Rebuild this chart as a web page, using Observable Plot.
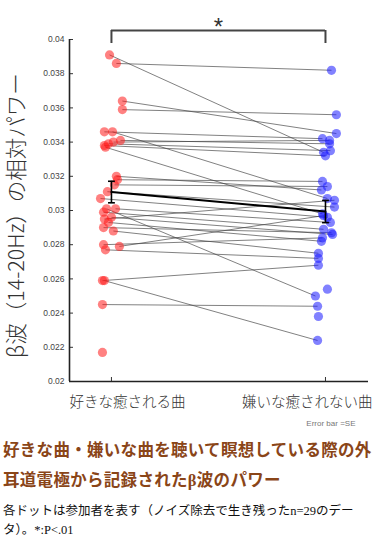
<!DOCTYPE html>
<html>
<head>
<meta charset="utf-8">
<script src="https://cdn.jsdelivr.net/npm/d3@7"></script>
<script src="https://cdn.jsdelivr.net/npm/@observablehq/plot@0.6"></script>
<style>
  html, body { margin: 0; padding: 0; background: #fff; }
  #wrap { width: 386px; }
  .title { margin: 6px 0 0 3px; color: #8a4518; font-family: "Liberation Serif", "Noto Sans CJK JP", serif; font-weight: 700; font-size: 16.5px; line-height: 30px; letter-spacing: 0.3px; white-space: nowrap; }
  .note { margin: 6px 0 0 3px; color: #111; font-family: "Liberation Serif", "Noto Sans CJK JP", serif; font-size: 12.5px; line-height: 19px; white-space: nowrap; }
</style>
</head>
<body>
<div id="wrap"></div>
<script>
const categories = ["好きな癒される曲", "嫌いな癒されない曲"];
const yTitle = "β波（14-20Hz）の相対パワー";
const yTicks = [0.02, 0.022, 0.024, 0.026, 0.028, 0.03, 0.032, 0.034, 0.036, 0.038, 0.04];
// per participant: value while listening to liked / disliked music (null = no partner point)
const leftValues  = [0.0391, 0.0386, 0.0364, 0.0359, 0.0346, 0.0346, 0.0341, 0.0340, 0.0338, 0.0339,
                     0.0337, 0.0320, 0.0318, 0.0315, 0.0311, 0.0307, 0.0301, 0.0301, 0.0299, 0.0296,
                     0.0295, 0.0293, 0.0290, 0.0288, 0.0280, 0.0279, 0.0277, 0.0259, 0.0259, 0.0245,
                     0.0217, null, null];
const rightValues = [0.0334, 0.0382, 0.0345, 0.0356, 0.0307, 0.0342, 0.0339, 0.0341, 0.0332, 0.0335,
                     0.0298, 0.0312, 0.0317, 0.0314, 0.0302, 0.0296, 0.0250, 0.0293, 0.0289, 0.0286,
                     0.0306, 0.0282, 0.0287, 0.0275, 0.0284, 0.0297, 0.0272, 0.0268, 0.0224, 0.0244,
                     null, 0.0254, 0.0238];
// horizontal scatter of each dot around its category (category units)
const leftJitter  = [-0.009, 0.023, 0.051, 0.051, 0.005, -0.033, 0.042, 0.009, -0.033, -0.014,
                     -0.028, 0.023, 0.028, 0.014, -0.019, -0.051, -0.023, 0.019, -0.037, 0.0,
                     -0.033, -0.014, -0.037, 0.009, -0.037, 0.037, -0.028, -0.042, -0.033, -0.042,
                     -0.042, 0, 0];
const rightJitter = [-0.009, 0.028, 0.051, 0.051, 0.009, -0.014, 0.019, 0.019, 0.0, 0.023,
                     -0.014, -0.019, -0.014, 0.009, 0.042, 0.009, -0.047, 0.023, -0.009, 0.033,
                     0.042, -0.019, 0.028, -0.033, -0.014, -0.009, -0.033, -0.033, -0.037, -0.037,
                     0, 0.009, -0.033];
const groupMeans = [0.03108, 0.02994];
const groupSE    = [0.00063, 0.00065];
const significance = "*";
const errorNote = "Error bar =SE";

const rows = leftValues.map((L, i) => ({L, R: rightValues[i], xL: 0 + leftJitter[i], xR: 1 + rightJitter[i]}));
const leftPts = rows.filter(d => d.L != null);
const rightPts = rows.filter(d => d.R != null);
const pairs = rows.filter(d => d.L != null && d.R != null);
const summary = groupMeans.map((m, i) => ({x: i, mean: m, lo: m - groupSE[i], hi: m + groupSE[i]}));

const xDomain = [-0.196, 1.201];
const yDomain = [0.02, 0.04];
const capHalf = 0.016;
const sans = "'Noto Sans CJK JP', sans-serif";
const num = "'Liberation Sans', Arial, sans-serif";

const chart = Plot.plot({
  width: 386, height: 430,
  marginLeft: 69, marginRight: 18, marginTop: 39, marginBottom: 49,
  x: {domain: xDomain, axis: null},
  y: {domain: yDomain, axis: null},
  style: {background: "white", fontFamily: sans, overflow: "visible"},
  marks: [
    Plot.axisY({ticks: yTicks, tickSize: 0, tickPadding: 5, tickFormat: d => String(+d.toFixed(3)), fontSize: 8.5, fontFamily: num, fill: "#444", label: null}),
    Plot.axisY({ticks: yTicks, tickSize: -4, tickFormat: () => "", stroke: "#333", label: null}),
    Plot.axisX({ticks: [0, 1], tickSize: -4, tickFormat: () => "", stroke: "#333", label: null}),
    Plot.ruleX([xDomain[0]], {stroke: "#222", strokeWidth: 1.6}),
    Plot.ruleY([yDomain[0]], {stroke: "#222", strokeWidth: 1.6}),
    // significance bracket
    Plot.ruleY([yDomain[1]], {x1: 0, x2: 1, dy: -9, stroke: "#444", strokeWidth: 2}),
    Plot.ruleX([0, 1], {y1: yDomain[1], y2: yDomain[1], insetTop: -9, insetBottom: -4, stroke: "#444", strokeWidth: 2}),
    Plot.text([significance], {x: 0.5, y: yDomain[1], dy: -12, fontSize: 24, fill: "#333", fontFamily: num}),
    // participant lines and dots
    Plot.link(pairs, {x1: "xL", y1: "L", x2: "xR", y2: "R", stroke: "#444", strokeWidth: 0.8, strokeOpacity: 0.85}),
    Plot.dot(leftPts, {x: "xL", y: "L", r: 4.6, fill: "#ff1a1a", fillOpacity: 0.55, stroke: "none"}),
    Plot.dot(rightPts, {x: "xR", y: "R", r: 4.6, fill: "#1a1aff", fillOpacity: 0.55, stroke: "none"}),
    // means with SE bars
    Plot.line(summary, {x: "x", y: "mean", stroke: "#000", strokeWidth: 2}),
    Plot.ruleX(summary, {x: "x", y1: "lo", y2: "hi", stroke: "#000", strokeWidth: 1.6}),
    Plot.link(summary, {x1: d => d.x - capHalf, x2: d => d.x + capHalf, y1: "lo", y2: "lo", stroke: "#000", strokeWidth: 1.6}),
    Plot.link(summary, {x1: d => d.x - capHalf, x2: d => d.x + capHalf, y1: "hi", y2: "hi", stroke: "#000", strokeWidth: 1.6}),
    // text
    Plot.text([yTitle], {frameAnchor: "left", textAnchor: "middle", rotate: -90, dx: -52, dy: 5, fontSize: 21.5, fontWeight: 300, fill: "#333"}),
    Plot.text([categories[0]], {frameAnchor: "bottom-left", textAnchor: "start", dy: 25, fontSize: 14.5, fill: "#333", fontWeight: 300}),
    Plot.text([categories[1]], {frameAnchor: "bottom-right", textAnchor: "end", dx: 4, dy: 25, fontSize: 14.5, fill: "#333", fontWeight: 300}),
    Plot.text([errorNote], {frameAnchor: "bottom-right", textAnchor: "end", dx: -13, dy: 44, fontSize: 8, fill: "#777", fontFamily: num})
  ]
});

const wrap = document.getElementById("wrap");
wrap.appendChild(chart);
const t = document.createElement("div");
t.className = "title";
t.innerHTML = "好きな曲・嫌いな曲を聴いて瞑想している際の外<br>耳道電極から記録されたβ波のパワー";
wrap.appendChild(t);
const n = document.createElement("div");
n.className = "note";
n.innerHTML = "各ドットは参加者を表す（ノイズ除去で生き残ったn=29のデー<br>タ）。*:P&lt;.01";
wrap.appendChild(n);
</script>
</body>
</html>
